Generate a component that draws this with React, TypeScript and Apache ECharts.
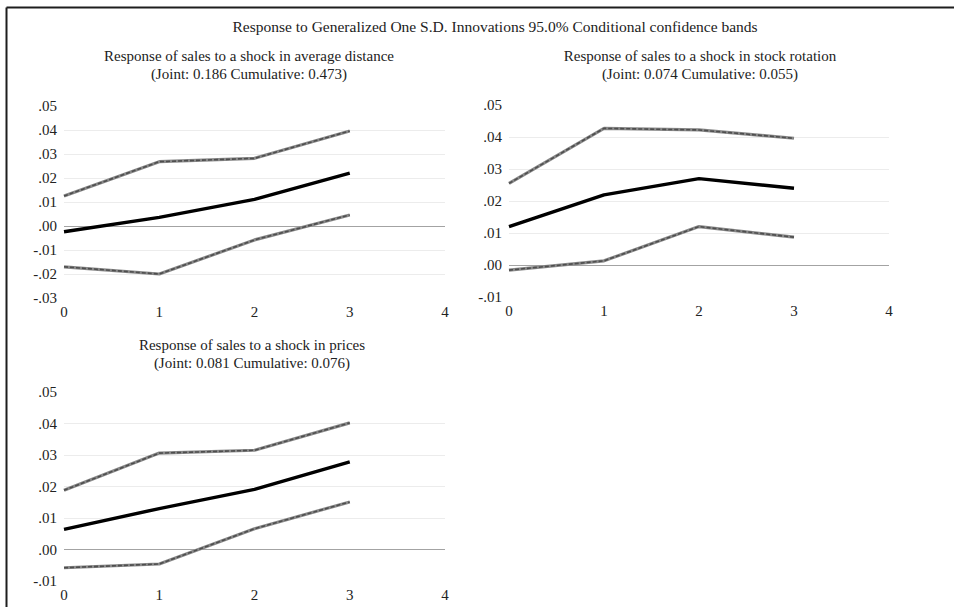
import React, { useEffect, useRef } from "react";
import * as echarts from "echarts";

// Forecast horizons (periods after the shock)
const horizons = ["0", "1", "2", "3", "4"];

// Response of sales to a shock in average distance
const distanceResp = [-0.0024, 0.0036, 0.0111, 0.022];
const distanceUpper = [0.0125, 0.0268, 0.0282, 0.0396];
const distanceLower = [-0.017, -0.02, -0.0058, 0.0046];

// Response of sales to a shock in stock rotation
const rotationResp = [0.012, 0.0219, 0.027, 0.024];
const rotationUpper = [0.0255, 0.0427, 0.0422, 0.0396];
const rotationLower = [-0.0016, 0.0013, 0.012, 0.0087];

// Response of sales to a shock in prices
const pricesResp = [0.0064, 0.013, 0.0191, 0.0278];
const pricesUpper = [0.0188, 0.0306, 0.0315, 0.0402];
const pricesLower = [-0.0058, -0.0046, 0.0066, 0.0151];

const mainTitle =
  "Response to Generalized One S.D. Innovations 95.0% Conditional confidence bands";
const panelTitles = [
  ["Response of sales to a shock in average distance", "(Joint: 0.186 Cumulative: 0.473)"],
  ["Response of sales to a shock in stock rotation", "(Joint: 0.074 Cumulative: 0.055)"],
  ["Response of sales to a shock in prices", "(Joint: 0.081 Cumulative: 0.076)"],
];

const FONT = "'Liberation Serif', 'Times New Roman', serif";
const TEXT = "#222";

const fmtTick = (v: number) => v.toFixed(2).replace(/^(-?)0\./, "$1.");

// split-line colours per tick: outer lines hidden, zero line darker
function gridColors(min: number, max: number, step: number) {
  const out: string[] = [];
  const n = Math.round((max - min) / step);
  for (let i = 0; i <= n; i++) {
    const v = min + i * step;
    if (i === 0 || i === n) out.push("rgba(0,0,0,0)");
    else if (Math.abs(v) < step / 10) out.push("#a3a3a3");
    else out.push("#ececec");
  }
  return out;
}

export default function App() {
  const ref = useRef<HTMLDivElement>(null);

  useEffect(() => {
    if (!ref.current) return;
    const chart = echarts.init(ref.current, null, { renderer: "svg" });

    const panels = [
      { grid: { left: 64, right: 509, top: 106, bottom: 309 }, min: -0.03, max: 0.05, resp: distanceResp, up: distanceUpper, lo: distanceLower, tx: 249, ty: 56 },
      { grid: { left: 509, right: 65, top: 105, bottom: 310 }, min: -0.01, max: 0.05, resp: rotationResp, up: rotationUpper, lo: rotationLower, tx: 700, ty: 56 },
      { grid: { left: 64, right: 509, top: 392, bottom: 26 }, min: -0.01, max: 0.05, resp: pricesResp, up: pricesUpper, lo: pricesLower, tx: 252, ty: 345 },
    ];

    const series: any[] = [];
    panels.forEach((p, i) => {
      const band = (data: number[]) => {
        series.push({
          type: "line", xAxisIndex: i, yAxisIndex: i, data, symbol: "none", silent: true,
          lineStyle: { color: "#8a8a8a", width: 3.2 },
        });
        series.push({
          type: "line", xAxisIndex: i, yAxisIndex: i, data, symbol: "none", silent: true,
          lineStyle: { color: "#4e4e4e", width: 1.6, type: [4, 2] },
        });
      };
      band(p.up);
      band(p.lo);
      series.push({
        type: "line", xAxisIndex: i, yAxisIndex: i, data: p.resp, symbol: "none", silent: true,
        lineStyle: { color: "#000", width: 3.4 },
      });
    });

    const titleGraphics: any[] = [];
    panels.forEach((p, i) => {
      panelTitles[i].forEach((line, k) => {
        titleGraphics.push({
          type: "text", x: p.tx, y: p.ty + k * 18,
          style: { text: line, font: `15px ${FONT}`, fill: TEXT, textAlign: "center", textVerticalAlign: "middle" },
        });
      });
    });

    chart.setOption({
      animation: false,
      backgroundColor: "#fff",
      grid: panels.map((p) => ({ ...p.grid, containLabel: false })),
      xAxis: panels.map((_, i) => ({
        type: "category", gridIndex: i, data: horizons, boundaryGap: false,
        axisLine: { show: false }, axisTick: { show: false }, splitLine: { show: false },
        axisLabel: { color: TEXT, fontFamily: FONT, fontSize: 15, margin: 6 },
      })),
      yAxis: panels.map((p, i) => ({
        type: "value", gridIndex: i, min: p.min, max: p.max, interval: 0.01,
        axisLine: { show: false }, axisTick: { show: false },
        axisLabel: { color: TEXT, fontFamily: FONT, fontSize: 15, margin: 7, formatter: fmtTick },
        splitLine: { show: true, lineStyle: { color: gridColors(p.min, p.max, 0.01), width: 1 } },
      })),
      series,
      graphic: [
        { type: "line", shape: { x1: 6.5, y1: 7.5, x2: 954, y2: 7.5 }, style: { stroke: "#1e1e1e", lineWidth: 2 } },
        { type: "line", shape: { x1: 6.5, y1: 7.5, x2: 6.5, y2: 607 }, style: { stroke: "#1e1e1e", lineWidth: 2 } },
        {
          type: "text", x: 495, y: 26,
          style: { text: mainTitle, font: `15.5px ${FONT}`, fill: TEXT, textAlign: "center", textVerticalAlign: "middle" },
        },
        ...titleGraphics,
      ],
    });

    return () => chart.dispose();
  }, []);

  return (
    <div
      ref={ref}
      style={{ position: "fixed", left: 0, top: 0, width: 954, height: 607, background: "#fff" }}
    />
  );
}
